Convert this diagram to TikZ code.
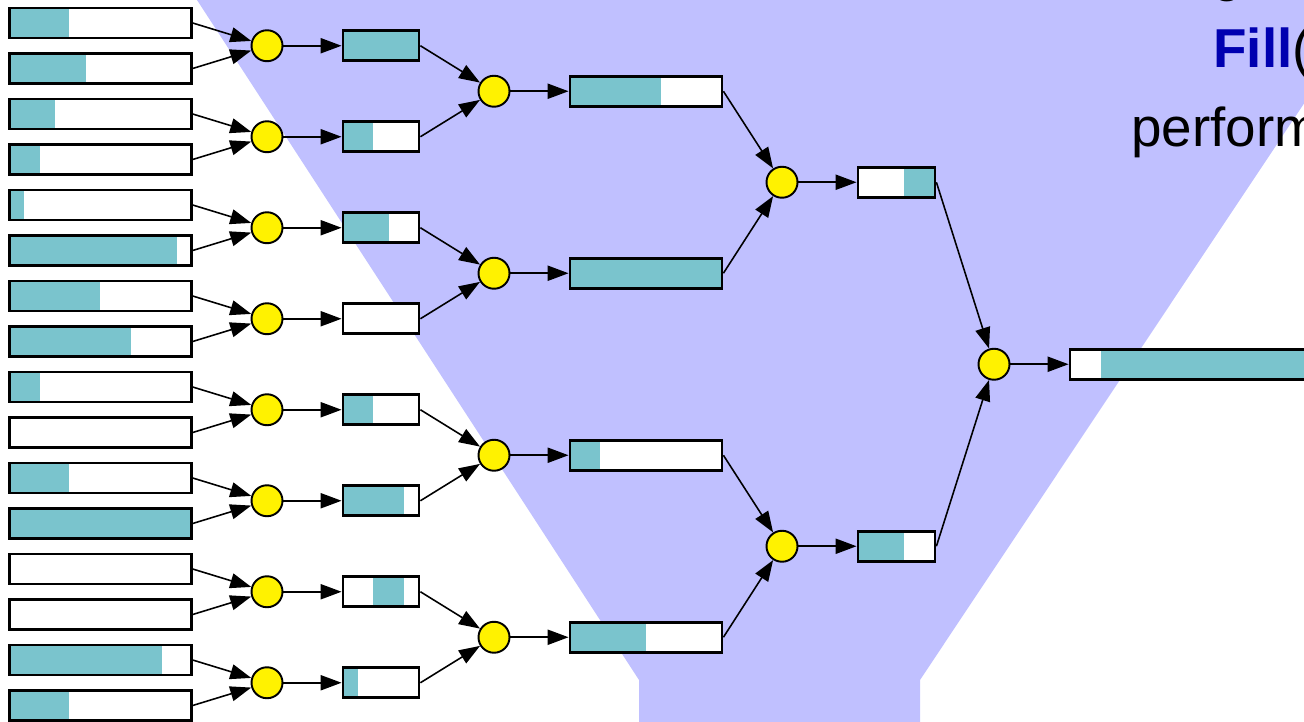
\documentclass[tikz,border=0pt]{standalone}
\usepackage{fontspec}
\setmainfont{Liberation Sans}
\usetikzlibrary{arrows.meta, calc}

\definecolor{lavender}{RGB}{192,192,255}
\definecolor{barteal}{RGB}{122,196,205}
\definecolor{fillblue}{RGB}{0,0,176}

\tikzset{
    bar/.style = {draw, line width = 1.6pt, fill = white, minimum height = 0.6cm, inner sep = 0pt},
    filled/.style 2 args = {path picture = {
        \fill[barteal] ($(path picture bounding box.south west)!#1!(path picture bounding box.south east)$)
            rectangle ($(path picture bounding box.north west)!#2!(path picture bounding box.north east)$);
    }},
    merge/.style = {circle, draw, line width = 1.1pt, fill = yellow, minimum size = 0.62cm, inner sep = 0pt},
    feed/.style = {-{Triangle[length = 0.42cm, width = 0.3cm]}, line width = 0.9pt},
    pass/.style = {feed, line width = 1.2pt},
    big/.style = {anchor = base west, inner sep = 0pt, font = \fontsize{31.2pt}{37pt}\selectfont},
}

\begin{document}
\begin{tikzpicture}[x = 0.02cm, y = -0.02cm]
    \clip (0,0) rectangle (1304,722);
    % funnel behind the tree
    \fill[lavender] (197,0) -- (639,680) -- (639,730) -- (920,730) -- (920,680) -- (1373,0) -- cycle;

    \node[big] (gline) at (1212,-9) {g};
    \node[big] (fillword) at (1213,68) {{\color{fillblue}\bfseries Fill}(};
    \node[big] (perf) at (1131,147) {perform};

    % leaves
    \foreach \a/\b [count = \i] in {0/0.33, 0/0.42, 0/0.25, 0/0.17, 0/0.08, 0/0.92, 0/0.5, 0/0.67,
                                     0/0.17, 0/0, 0/0.33, 0/1, 0/0, 0/0, 0/0.84, 0/0.33} {
        \node[bar, minimum width = 3.64cm, filled = {\a}{\b}] (in\i) at (100.3, {23 + 45.5*(\i-1)}) {};
    }

    % first merge level
    \foreach \a/\b [count = \j, evaluate = \j as \u using int(2*\j-1), evaluate = \j as \v using int(2*\j)]
            in {0/1, 0/0.4, 0/0.6, 0/0, 0/0.4, 0/0.8, 0.4/0.8, 0/0.2} {
        \node[merge] (m1-\j) at (267, {45.75 + 91*(\j-1)}) {};
        \node[bar, minimum width = 1.52cm, filled = {\a}{\b}] (s1-\j) at (381, {45.75 + 91*(\j-1)}) {};
        \draw[feed] (in\u.east) -- (m1-\j);
        \draw[feed] (in\v.east) -- (m1-\j);
        \draw[pass] (m1-\j) -- (s1-\j);
    }

    % second merge level
    \foreach \a/\b [count = \j, evaluate = \j as \u using int(2*\j-1), evaluate = \j as \v using int(2*\j)]
            in {0/0.6, 0/1, 0/0.2, 0/0.5} {
        \node[merge] (m2-\j) at (494, {91.25 + 182*(\j-1)}) {};
        \node[bar, minimum width = 3.04cm, filled = {\a}{\b}] (s2-\j) at (646, {91.25 + 182*(\j-1)}) {};
        \draw[feed] (s1-\u.east) -- (m2-\j);
        \draw[feed] (s1-\v.east) -- (m2-\j);
        \draw[pass] (m2-\j) -- (s2-\j);
    }

    % third merge level
    \foreach \a/\b [count = \j, evaluate = \j as \u using int(2*\j-1), evaluate = \j as \v using int(2*\j)]
            in {0.6/1, 0/0.6} {
        \node[merge] (m3-\j) at (782, {182.25 + 364*(\j-1)}) {};
        \node[bar, minimum width = 1.54cm, filled = {\a}{\b}] (s3-\j) at (896.5, {182.25 + 364*(\j-1)}) {};
        \draw[feed] (s2-\u.east) -- (m3-\j);
        \draw[feed] (s2-\v.east) -- (m3-\j);
        \draw[pass] (m3-\j) -- (s3-\j);
    }

    % root
    \node[merge] (m4) at (994,364.25) {};
    \node[bar, minimum width = 6cm, filled = {0.103}{1}] (out) at (1220,364.25) {};
    \draw[feed] (s3-1.east) -- (m4);
    \draw[feed] (s3-2.east) -- (m4);
    \draw[pass] (m4) -- (out);
\end{tikzpicture}
\end{document}
